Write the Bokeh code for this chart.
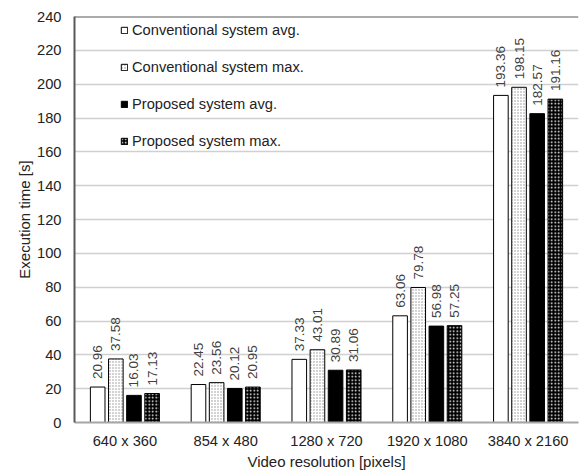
from bokeh.plotting import figure
from bokeh.models import ColumnDataSource, FactorRange, FixedTicker, Span, Legend
from bokeh.transform import dodge
from bokeh.core.properties import value
from bokeh.embed import file_html
from bokeh.resources import INLINE
import math

resolutions = ["640 x 360", "854 x 480", "1280 x 720", "1920 x 1080", "3840 x 2160"]
conv_avg = [20.96, 22.45, 37.33, 63.06, 193.36]
conv_max = [37.58, 23.56, 43.01, 79.78, 198.15]
prop_avg = [16.03, 20.12, 30.89, 56.98, 182.57]
prop_max = [17.13, 20.95, 31.06, 57.25, 191.16]
series_names = ["Conventional system avg.", "Conventional system max.",
                "Proposed system avg.", "Proposed system max."]
y_ticks = [0, 20, 40, 60, 80, 100, 120, 140, 160, 180, 200, 220, 240]

source = ColumnDataSource(dict(
    res=resolutions, conv_avg=conv_avg, conv_max=conv_max,
    prop_avg=prop_avg, prop_max=prop_max,
    conv_avg_t=[f"{v:.2f}" for v in conv_avg],
    conv_max_t=[f"{v:.2f}" for v in conv_max],
    prop_avg_t=[f"{v:.2f}" for v in prop_avg],
    prop_max_t=[f"{v:.2f}" for v in prop_max],
))

p = figure(x_range=FactorRange(*resolutions), y_range=(0, 240),
           width=579, height=472, output_backend="svg", toolbar_location=None,
           min_border_left=74, min_border_right=1, min_border_top=16, min_border_bottom=0)
p.outline_line_color = None
p.background_fill_color = "white"

FONT = "Liberation Sans"
cols = ["conv_avg", "conv_max", "prop_avg", "prop_max"]
offsets = [-0.27, -0.09, 0.09, 0.27]
styles = [
    dict(fill_color="white"),
    dict(fill_color="white", hatch_pattern="dot", hatch_color="#909090", hatch_scale=3, hatch_weight=1.2),
    dict(fill_color="black"),
    dict(fill_color="black", hatch_pattern="dot", hatch_color="white", hatch_scale=3.5, hatch_weight=1.6),
]
renderers = []
for col, off, st, name in zip(cols, offsets, styles, series_names):
    r = p.vbar(x=dodge("res", off, range=p.x_range), top=col, width=0.145, source=source,
               line_color="black", line_width=1, **st)
    renderers.append((name, r))
    p.text(x=dodge("res", off, range=p.x_range), y=col, text=col + "_t", source=source,
           angle=math.pi / 2, text_align="left", text_baseline="middle", y_offset=-8,
           text_font=value(FONT), text_font_size="13.5px", text_color="#404040")

p.add_layout(Span(location=240, dimension="width", line_color="#595959", line_width=2))

legend = Legend(items=[(n, [r]) for n, r in renderers], location=(46, 273),
                background_fill_alpha=0, border_line_color=None, padding=0, margin=0,
                glyph_width=8, glyph_height=8, label_standoff=4, label_height=16, spacing=21,
                label_text_font=FONT, label_text_font_size="14.67px", label_text_color="#222222")
p.add_layout(legend, "center")

p.yaxis.ticker = FixedTicker(ticks=y_ticks)
p.ygrid.grid_line_color = "#d0d0d0"
p.ygrid.grid_line_width = 1.5
p.xgrid.grid_line_color = None

p.yaxis.axis_line_color = "#595959"
p.yaxis.axis_line_width = 2
p.yaxis.major_tick_line_color = None
p.yaxis.minor_tick_line_color = None
p.yaxis.major_label_standoff = 7
p.yaxis.axis_label = "Execution time [s]"
p.yaxis.axis_label_standoff = 1

p.xaxis.axis_line_color = "#a6a6a6"
p.xaxis.axis_line_width = 2
p.xaxis.major_tick_line_color = None
p.xaxis.minor_tick_line_color = None
p.xaxis.major_label_standoff = 4
p.xaxis.axis_label = "Video resolution [pixels]"
p.xaxis.axis_label_standoff = 1

for ax in (p.xaxis, p.yaxis):
    ax.major_label_text_font = FONT
    ax.major_label_text_font_size = "14.67px"
    ax.major_label_text_color = "#222222"
    ax.axis_label_text_font = FONT
    ax.axis_label_text_font_size = "15px"
    ax.axis_label_text_font_style = "normal"
    ax.axis_label_text_color = "#222222"

open("out.html", "w").write(file_html(p, INLINE))
